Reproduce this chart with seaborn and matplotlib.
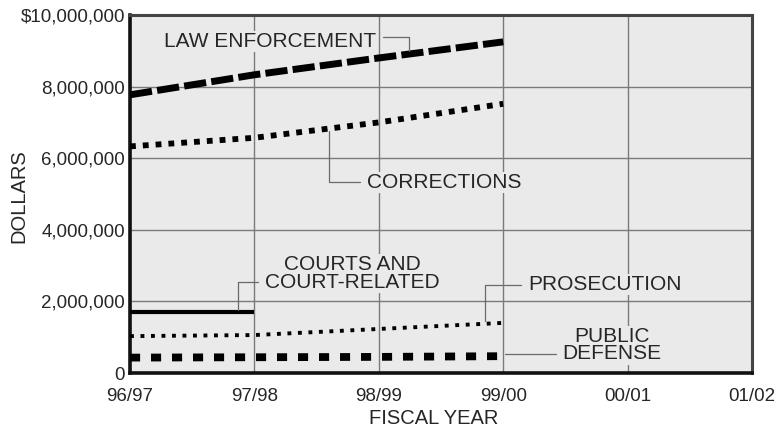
import numpy as np
import matplotlib
matplotlib.use("Agg")
import matplotlib.pyplot as plt
from matplotlib.ticker import FuncFormatter
import seaborn as sns

years = ["96/97", "97/98", "98/99", "99/00", "00/01", "01/02"]
law_enforcement = [7_770_000, 8_330_000, 8_800_000, 9_250_000]
corrections = [6_330_000, 6_570_000, 7_000_000, 7_520_000]
courts = [1_690_000, 1_690_000]
prosecution = [1_030_000, 1_060_000, 1_230_000, 1_400_000]
public_defense = [430_000, 440_000, 450_000, 470_000]
y_ticks = [0, 2_000_000, 4_000_000, 6_000_000, 8_000_000, 10_000_000]

sns.set_style("white")
plt.rcParams["font.family"] = ["Liberation Sans", "DejaVu Sans"]

BG = "#eaeaea"
TXT = "#262626"
LEAD = "#6a6a6a"

fig = plt.figure(figsize=(7.84, 4.32), dpi=100)
ax = fig.add_axes([130 / 784, 59 / 432, 622 / 784, 358 / 432])
ax.set_facecolor(BG)

# (values, linewidth, linestyle)
series = [
    (law_enforcement, 5.0, (0, (3.2, 0.75))),
    (corrections, 4.2, (0, (1.0, 1.2))),
    (courts, 3.0, "-"),
    (prosecution, 2.8, (0, (1.0, 1.7))),
    (public_defense, 5.6, (0, (1.3, 1.4))),
]
for vals, lw, ls in series:
    sns.lineplot(x=np.arange(len(vals)), y=vals, ax=ax, color="black",
                 linewidth=lw, linestyle=ls, dash_capstyle="butt",
                 solid_capstyle="butt", zorder=3)

ax.set_xlim(0, len(years) - 1)
ax.set_ylim(0, 10_000_000)
ax.set_xticks(range(len(years)))
ax.set_xticklabels(years)
ax.set_yticks(y_ticks)
ax.yaxis.set_major_formatter(FuncFormatter(
    lambda v, p: "$10,000,000" if v >= 10_000_000 else f"{int(v):,}"))
ax.grid(True, color="#7a7a7a", linewidth=1.0)
ax.set_axisbelow(True)
ax.tick_params(axis="both", length=0, labelsize=13.5, colors=TXT)
ax.tick_params(axis="x", pad=11)
ax.tick_params(axis="y", pad=3.5)
for side in ["top", "right"]:
    ax.spines[side].set_color("#444444")
    ax.spines[side].set_linewidth(2.2)
for side in ["left", "bottom"]:
    ax.spines[side].set_color("#111111")
    ax.spines[side].set_linewidth(2.6)

ax.set_xlabel("FISCAL YEAR", fontsize=14.5, color=TXT)
ax.set_ylabel("DOLLARS", fontsize=14.5, color=TXT)
ax.xaxis.set_label_coords(0.489, -0.1)
ax.yaxis.set_label_coords(-0.163, 0.495)

# series labels with leader lines: text, values, text xy, ha, leader x, relpos
labels = [
    ("LAW ENFORCEMENT", law_enforcement, (1.125, 9_270_000), "center", 2.243, (1, 0.72)),
    ("CORRECTIONS", corrections, (1.905, 5_330_000), "left", 1.6, (0, 0.5)),
    ("COURTS AND\nCOURT-RELATED", courts, (1.785, 2_790_000), "center", 0.868, (0, 0.27)),
    ("PROSECUTION", prosecution, (3.2, 2_460_000), "left", 2.854, (0, 0.5)),
    ("PUBLIC\nDEFENSE", public_defense, (3.875, 780_000), "center", 3.0, (0, 0.25)),
]
for text, vals, xytext, ha, lx, rel in labels:
    ly = np.interp(lx, np.arange(len(vals)), vals)
    ax.annotate(text, xy=(lx, ly), xytext=xytext, ha=ha, va="center",
                multialignment="center", fontsize=15, color=TXT,
                linespacing=0.92, zorder=4,
                bbox=dict(boxstyle="square,pad=0.05", fc=BG, ec="none"),
                arrowprops=dict(arrowstyle="-", color=LEAD, lw=0.9,
                                connectionstyle="angle,angleA=0,angleB=90,rad=0",
                                relpos=rel, shrinkA=4, shrinkB=2))

fig.savefig("out.png", dpi=100)
plt.close(fig)
